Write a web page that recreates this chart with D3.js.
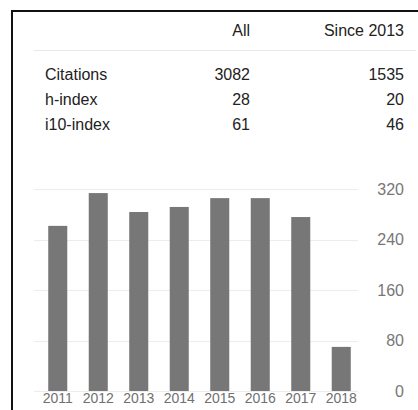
<!DOCTYPE html>
<html>
<head>
<meta charset="utf-8">
<script src="https://cdn.jsdelivr.net/npm/d3@7"></script>
<style>
  body { margin: 0; background: #fff; }
  svg { display: block; font-family: "Liberation Sans", Arial, sans-serif; }
</style>
</head>
<body>
<div class="chart"></div>
<script>
var years = ["2011", "2012", "2013", "2014", "2015", "2016", "2017", "2018"];
var citations = [262, 314, 284, 292, 306, 306, 276, 70];
var yTicks = [0, 80, 160, 240, 320];

var columnHeaders = ["All", "Since 2013"];
var rowLabels = ["Citations", "h-index", "i10-index"];
var allValues = [3082, 28, 61];
var sinceValues = [1535, 20, 46];

var svgWidth = 418;
var svgHeight = 410;

var svg = d3
  .select(".chart")
  .append("svg")
  .attr("width", svgWidth)
  .attr("height", svgHeight);

// frame (left and top edges of the box)
svg.append("rect")
  .attr("x", 12).attr("y", 11)
  .attr("width", 420).attr("height", 420)
  .attr("fill", "none")
  .attr("stroke", "#111")
  .attr("stroke-width", 2);

// stats table
var colRight = [250, 404];
var table = svg.append("g").attr("fill", "#222").style("font-size", "16px");

table.selectAll(".head")
  .data(columnHeaders)
  .enter()
  .append("text")
  .attr("class", "head")
  .attr("x", function(d, i) { return colRight[i]; })
  .attr("y", 36)
  .attr("text-anchor", "end")
  .text(function(d) { return d; });

svg.append("line")
  .attr("x1", 34).attr("x2", 416)
  .attr("y1", 50.5).attr("y2", 50.5)
  .attr("stroke", "#e8e8e8");

var rowY = d3.scalePoint().domain(rowLabels).range([80, 130]);

table.selectAll(".label")
  .data(rowLabels)
  .enter()
  .append("text")
  .attr("class", "label")
  .attr("x", 45)
  .attr("y", function(d) { return rowY(d); })
  .text(function(d) { return d; });

[allValues, sinceValues].forEach(function(values, c) {
  table.selectAll(".val" + c)
    .data(values)
    .enter()
    .append("text")
    .attr("class", "val" + c)
    .attr("x", colRight[c])
    .attr("y", function(d, i) { return rowY(rowLabels[i]); })
    .attr("text-anchor", "end")
    .text(function(d) { return d; });
});

// bar chart
var xBandScale = d3.scaleBand()
  .domain(years)
  .range([37.5, 361.5])
  .paddingInner(0.53)
  .paddingOuter(0.265);

var yLinearScale = d3.scaleLinear()
  .domain([0, 320])
  .range([391, 189.3]);

var chart = svg.append("g");

chart.selectAll(".grid")
  .data(yTicks)
  .enter()
  .append("line")
  .attr("class", "grid")
  .attr("x1", 34).attr("x2", 358)
  .attr("y1", function(d) { return Math.round(yLinearScale(d)) + 0.5; })
  .attr("y2", function(d) { return Math.round(yLinearScale(d)) + 0.5; })
  .attr("stroke", "#ececec");

chart.selectAll("rect.bar")
  .data(citations)
  .enter()
  .append("rect")
  .attr("class", "bar")
  .attr("x", function(d, i) { return xBandScale(years[i]); })
  .attr("width", xBandScale.bandwidth())
  .attr("y", function(d) { return yLinearScale(d); })
  .attr("height", function(d) { return yLinearScale(0) - yLinearScale(d); })
  .attr("fill", "#777");

var bottomAxis = d3.axisBottom(xBandScale).tickSize(0).tickPadding(2);
var rightAxis = d3.axisRight(yLinearScale).tickValues(yTicks).tickSize(0);

var xg = chart.append("g")
  .attr("transform", "translate(0," + yLinearScale(0) + ")")
  .call(bottomAxis);
xg.select(".domain").remove();
xg.selectAll("text")
  .attr("fill", "#6f6f6f")
  .style("font-size", "14px")
  .style("font-family", "'Liberation Sans', Arial, sans-serif");

var yg = chart.append("g")
  .attr("transform", "translate(404,0)")
  .call(rightAxis);
yg.select(".domain").remove();
yg.selectAll("text")
  .attr("x", 0)
  .attr("text-anchor", "end")
  .attr("fill", "#777")
  .style("font-size", "16px")
  .style("font-family", "'Liberation Sans', Arial, sans-serif");
</script>
</body>
</html>
